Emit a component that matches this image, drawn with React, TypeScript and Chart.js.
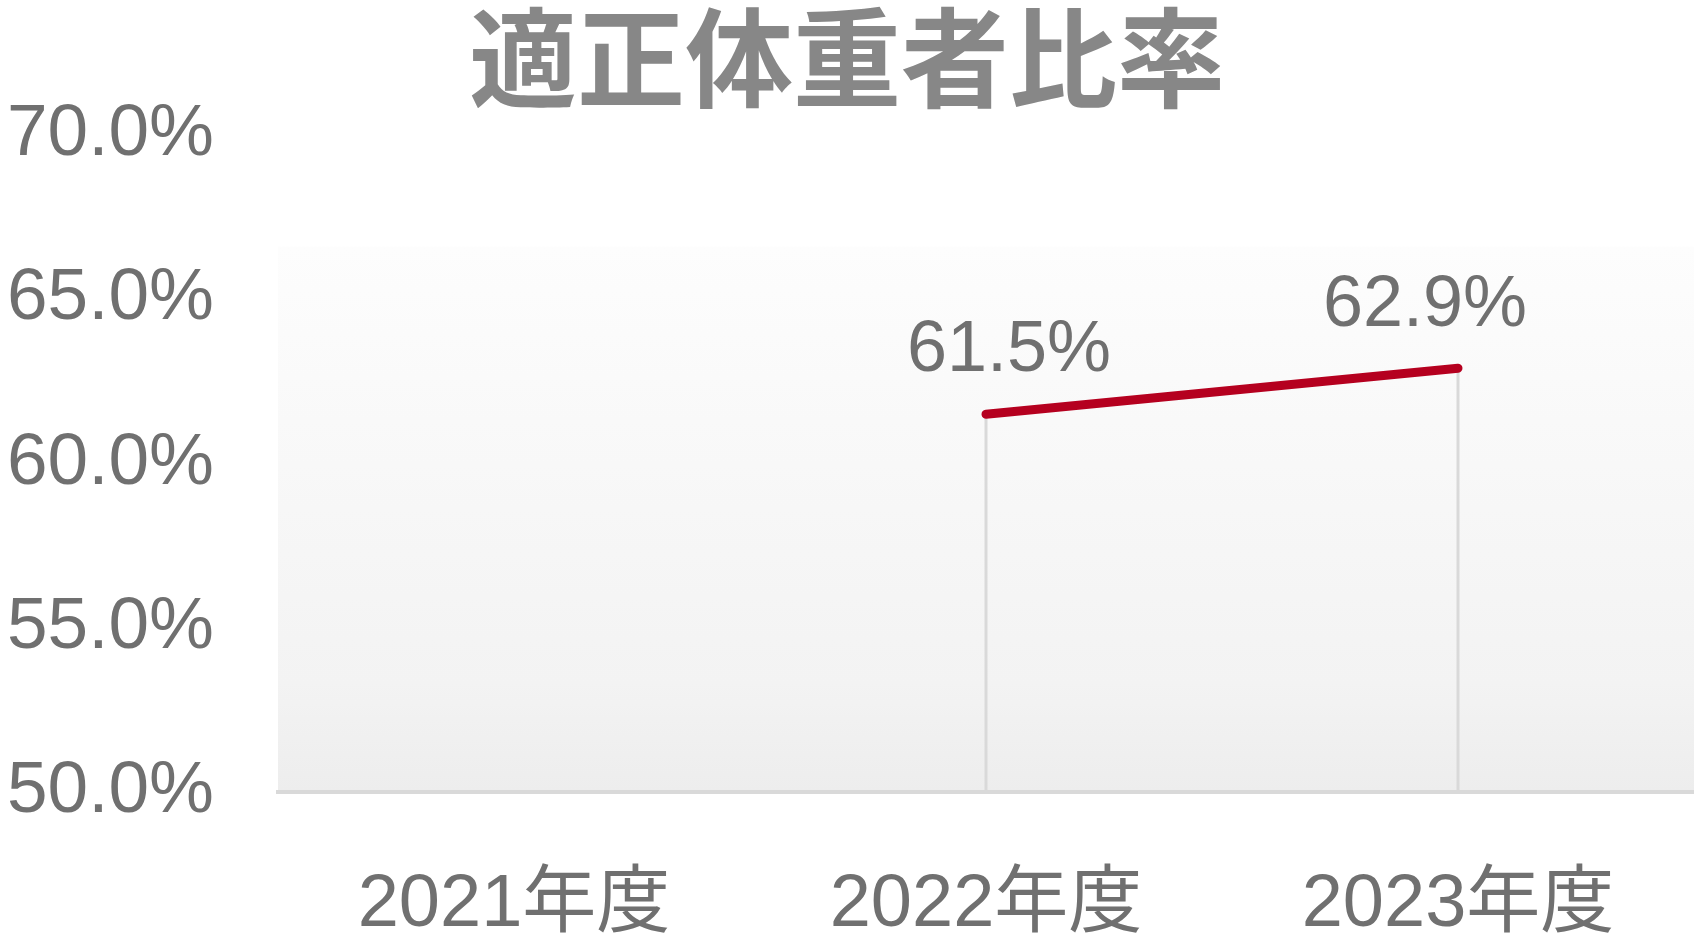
import { useEffect, useRef } from "react";
import { Chart, registerables } from "chart.js";

Chart.register(...registerables);

// chart data
const years = ["2021年度", "2022年度", "2023年度"];
const ratio: (number | null)[] = [null, 61.5, 62.9]; // 適正体重者比率 (%)
const yTicks = { min: 50, max: 70, step: 5 };

// label nudges, one per point (px)
const labelDx = [0, 23, -33];
const labelDy = [0, -63, -62];

const TEXT = "#707070";
const LINE_RED = "#B5001F";
const GRID = "#d9d9d9";
const BG_TOP = 66.6; // where the shaded plot background begins
const LATIN = "'Liberation Sans', 'Noto Sans CJK JP', sans-serif";

// shaded plot background
const bgPlugin = {
  id: "bgShade",
  beforeDraw(chart: any) {
    const { ctx, chartArea } = chart;
    const y = chart.scales.y;
    const top = y.getPixelForValue(BG_TOP);
    const g = ctx.createLinearGradient(0, top, 0, chartArea.bottom);
    g.addColorStop(0, "#fdfdfd");
    g.addColorStop(0.8, "#f3f3f3");
    g.addColorStop(1, "#ededed");
    ctx.save();
    ctx.fillStyle = g;
    ctx.fillRect(chartArea.left, top, chartArea.right - chartArea.left, chartArea.bottom - top);
    ctx.restore();
  },
};

// drop lines from each point down to the axis
const dropLines = {
  id: "dropLines",
  beforeDatasetsDraw(chart: any) {
    const { ctx, chartArea } = chart;
    const meta = chart.getDatasetMeta(0);
    ctx.save();
    ctx.strokeStyle = GRID;
    ctx.lineWidth = 3;
    meta.data.forEach((pt: any, i: number) => {
      if (ratio[i] == null) return;
      ctx.beginPath();
      ctx.moveTo(pt.x, pt.y);
      ctx.lineTo(pt.x, chartArea.bottom);
      ctx.stroke();
    });
    ctx.restore();
  },
};

// value labels above points
const valueLabels = {
  id: "valueLabels",
  afterDatasetsDraw(chart: any) {
    const { ctx } = chart;
    const meta = chart.getDatasetMeta(0);
    ctx.save();
    ctx.fillStyle = TEXT;
    ctx.font = `72px ${LATIN}`;
    ctx.textAlign = "center";
    ctx.textBaseline = "middle";
    meta.data.forEach((pt: any, i: number) => {
      const v = ratio[i];
      if (v == null) return;
      ctx.fillText(v.toFixed(1) + "%", pt.x + labelDx[i], pt.y + labelDy[i]);
    });
    ctx.restore();
  },
};

const LineChart = () => {
  const canvasRef = useRef<HTMLCanvasElement | null>(null);

  useEffect(() => {
    if (!canvasRef.current) return;
    const chart = new Chart(canvasRef.current, {
      type: "line",
      data: {
        labels: years,
        datasets: [
          {
            label: "適正体重者比率",
            data: ratio,
            borderColor: LINE_RED,
            borderWidth: 9,
            borderCapStyle: "round",
            pointRadius: 0,
            tension: 0,
            spanGaps: false,
          },
        ],
      },
      options: {
        responsive: false,
        animation: false,
        devicePixelRatio: 1,
        layout: { padding: { left: 0, right: 0, top: 0, bottom: 0 } },
        plugins: {
          legend: { display: false },
          tooltip: { enabled: false },
          title: {
            display: true,
            text: "適正体重者比率",
            color: "#878787",
            font: { family: "'Noto Sans CJK JP', sans-serif", size: 108, weight: "bold", lineHeight: 1 },
            padding: { top: 4, bottom: 23 },
          },
        },
        scales: {
          x: {
            offset: true,
            grid: { display: false, drawTicks: false },
            border: { display: true, color: GRID, width: 4 },
            afterFit: (s: any) => {
              s.height = 148;
            },
            ticks: {
              color: TEXT,
              padding: 77,
              font: { family: LATIN, size: 74, lineHeight: 1 },
            },
          },
          y: {
            min: yTicks.min,
            max: yTicks.max,
            grid: { display: false, drawTicks: false },
            border: { display: false },
            afterFit: (s: any) => {
              s.width = 278;
            },
            ticks: {
              stepSize: yTicks.step,
              color: TEXT,
              padding: 64,
              font: { family: LATIN, size: 73, lineHeight: 1 },
              callback: (v: any) => Number(v).toFixed(1) + "%",
            },
          },
        },
      },
      plugins: [bgPlugin, dropLines, valueLabels],
    });

    return () => {
      chart.destroy();
    };
  }, []);

  return (
    <div style={{ position: "absolute", left: 0, top: 0, width: 1694, height: 940, background: "#fff" }}>
      <canvas ref={canvasRef} width={1694} height={940} style={{ width: 1694, height: 940 }}></canvas>
    </div>
  );
};

export default function App() {
  return <LineChart />;
}
